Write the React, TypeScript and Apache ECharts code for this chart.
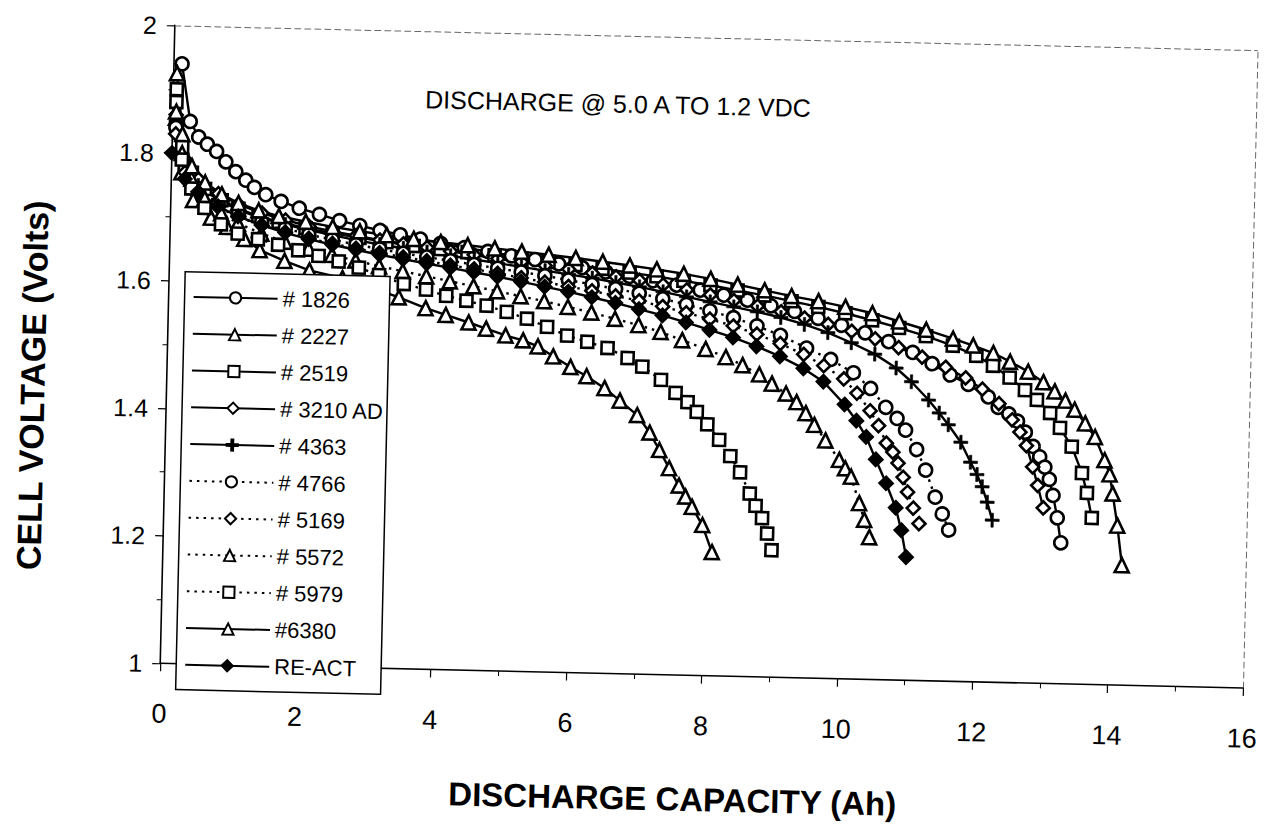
import React, { useEffect, useRef } from "react";
import * as echarts from "echarts";

// Tick labels / axis setup
const xTicks = [0, 2, 4, 6, 8, 10, 12, 14, 16];
const yTicks = [1, 1.2, 1.4, 1.6, 1.8, 2];

const seriesNames = [
  "# 1826",
  "# 2227",
  "# 2519",
  "# 3210 AD",
  "# 4363",
  "# 4766",
  "# 5169",
  "# 5572",
  "# 5979",
  "#6380",
  "RE-ACT",
];

// [capacity Ah, voltage V]
const s1826 = [[0.12,1.94],[0.26,1.85],[0.39,1.826],[0.52,1.815],[0.66,1.804],[0.8,1.788],[0.95,1.773],[1.1,1.76],[1.23,1.749],[1.4,1.738],[1.63,1.728],[1.9,1.718],[2.2,1.709],[2.5,1.7],[2.8,1.693],[3.1,1.686],[3.4,1.68],[3.7,1.674],[4.0,1.668],[4.35,1.662],[4.7,1.657],[5.05,1.651],[5.4,1.646],[5.75,1.64],[6.1,1.635],[6.45,1.629],[6.8,1.623],[7.15,1.617],[7.5,1.611],[7.85,1.604],[8.2,1.597],[8.55,1.59],[8.9,1.582],[9.25,1.574],[9.6,1.564],[9.95,1.554],[10.3,1.543],[10.65,1.53],[11.01,1.514],[11.3,1.497],[11.57,1.48],[11.84,1.466],[12.14,1.447],[12.29,1.431],[12.45,1.421],[12.58,1.41],[12.7,1.393],[12.82,1.371],[12.92,1.355],[13.0,1.339],[13.07,1.32],[13.13,1.295],[13.2,1.26],[13.26,1.221]];
const s2227 = [[0.05,1.855],[0.15,1.77],[0.33,1.727],[0.6,1.7],[0.84,1.686],[1.1,1.668],[1.33,1.651],[1.7,1.635],[2.07,1.621],[2.56,1.61],[3.0,1.596],[3.4,1.582],[3.8,1.566],[4.1,1.556],[4.44,1.545],[4.7,1.536],[4.99,1.526],[5.25,1.519],[5.47,1.51],[5.7,1.495],[5.96,1.479],[6.2,1.465],[6.47,1.447],[6.7,1.428],[6.96,1.406],[7.15,1.379],[7.3,1.352],[7.45,1.324],[7.6,1.297],[7.7,1.28],[7.8,1.264],[7.96,1.236],[8.11,1.194]];
const s2519 = [[0.05,1.88],[0.15,1.81],[0.3,1.77],[0.5,1.745],[0.75,1.728],[1.0,1.715],[1.3,1.704],[1.6,1.696],[2.0,1.687],[2.4,1.68],[2.8,1.674],[3.2,1.668],[3.6,1.663],[4.0,1.659],[4.4,1.655],[4.8,1.651],[5.2,1.647],[5.6,1.643],[6.0,1.639],[6.4,1.634],[6.8,1.629],[7.2,1.624],[7.6,1.618],[8.0,1.612],[8.4,1.605],[8.8,1.598],[9.2,1.59],[9.6,1.582],[10.0,1.573],[10.4,1.563],[10.8,1.552],[11.2,1.54],[11.6,1.526],[11.95,1.511],[12.2,1.496],[12.45,1.478],[12.68,1.459],[12.86,1.444],[13.06,1.424],[13.21,1.401],[13.39,1.372],[13.55,1.331],[13.63,1.3],[13.71,1.261]];
const s3210 = [[0.05,1.86],[0.2,1.79],[0.4,1.76],[0.7,1.738],[1.0,1.722],[1.35,1.709],[1.7,1.699],[2.05,1.69],[2.4,1.683],[2.75,1.677],[3.1,1.671],[3.45,1.666],[3.8,1.661],[4.15,1.656],[4.5,1.651],[4.85,1.646],[5.2,1.642],[5.55,1.637],[5.9,1.632],[6.25,1.627],[6.6,1.622],[6.95,1.617],[7.3,1.611],[7.65,1.604],[8.0,1.597],[8.35,1.589],[8.7,1.581],[9.05,1.573],[9.4,1.564],[9.75,1.555],[10.1,1.545],[10.45,1.534],[10.8,1.521],[11.15,1.507],[11.5,1.492],[11.8,1.476],[12.05,1.459],[12.3,1.437],[12.5,1.412],[12.62,1.393],[12.72,1.372],[12.82,1.339],[12.9,1.31],[12.99,1.275]];
const s4363 = [[0.05,1.85],[0.2,1.78],[0.4,1.75],[0.7,1.728],[1.0,1.713],[1.35,1.701],[1.7,1.692],[2.05,1.684],[2.4,1.677],[2.75,1.67],[3.1,1.664],[3.45,1.659],[3.8,1.654],[4.15,1.649],[4.5,1.644],[4.85,1.639],[5.2,1.634],[5.55,1.629],[5.9,1.624],[6.25,1.619],[6.6,1.613],[6.95,1.607],[7.3,1.6],[7.65,1.593],[8.0,1.586],[8.35,1.579],[8.7,1.572],[9.05,1.564],[9.4,1.554],[9.75,1.542],[10.1,1.527],[10.45,1.51],[10.77,1.489],[11.0,1.468],[11.26,1.44],[11.42,1.42],[11.56,1.402],[11.75,1.375],[11.9,1.344],[12.0,1.325],[12.08,1.306],[12.16,1.282],[12.24,1.254]];
const s4766 = [[0.05,1.84],[0.2,1.775],[0.4,1.745],[0.7,1.722],[1.0,1.707],[1.35,1.695],[1.7,1.686],[2.05,1.677],[2.4,1.67],[2.75,1.663],[3.1,1.657],[3.45,1.651],[3.8,1.646],[4.15,1.641],[4.5,1.636],[4.85,1.631],[5.2,1.626],[5.55,1.621],[5.9,1.615],[6.25,1.609],[6.6,1.603],[6.95,1.597],[7.3,1.589],[7.65,1.581],[8.0,1.572],[8.35,1.562],[8.7,1.55],[9.05,1.536],[9.44,1.517],[9.8,1.5],[10.14,1.48],[10.4,1.456],[10.63,1.427],[10.8,1.41],[10.93,1.392],[11.1,1.362],[11.24,1.33],[11.39,1.288],[11.5,1.262],[11.6,1.237]];
const s5169 = [[0.05,1.83],[0.2,1.77],[0.4,1.74],[0.7,1.717],[1.0,1.702],[1.35,1.69],[1.7,1.68],[2.05,1.671],[2.4,1.664],[2.75,1.657],[3.1,1.651],[3.45,1.645],[3.8,1.64],[4.15,1.634],[4.5,1.629],[4.85,1.623],[5.2,1.617],[5.55,1.611],[5.9,1.605],[6.25,1.599],[6.6,1.592],[6.95,1.585],[7.3,1.577],[7.65,1.568],[8.0,1.559],[8.35,1.549],[8.7,1.537],[9.05,1.523],[9.4,1.507],[9.7,1.49],[10.0,1.47],[10.2,1.448],[10.4,1.421],[10.53,1.398],[10.65,1.371],[10.75,1.357],[10.83,1.34],[10.91,1.318],[10.98,1.295],[11.07,1.27],[11.16,1.246]];
const s5572 = [[0.05,1.865],[0.15,1.8],[0.3,1.76],[0.5,1.73],[0.75,1.707],[1.0,1.692],[1.35,1.677],[1.7,1.665],[2.05,1.655],[2.4,1.646],[2.75,1.638],[3.1,1.63],[3.45,1.623],[3.8,1.616],[4.15,1.609],[4.5,1.602],[4.85,1.595],[5.2,1.588],[5.55,1.581],[5.9,1.573],[6.25,1.565],[6.6,1.556],[6.95,1.547],[7.28,1.537],[7.6,1.525],[7.95,1.512],[8.25,1.5],[8.5,1.488],[8.75,1.474],[8.94,1.46],[9.15,1.445],[9.31,1.432],[9.45,1.415],[9.58,1.397],[9.75,1.373],[9.96,1.343],[10.05,1.33],[10.14,1.317],[10.27,1.276],[10.35,1.25],[10.43,1.223]];
const s5979 = [[0.05,1.9],[0.15,1.79],[0.3,1.745],[0.5,1.715],[0.75,1.69],[1.0,1.676],[1.3,1.668],[1.6,1.66],[1.9,1.652],[2.2,1.644],[2.5,1.636],[2.8,1.627],[3.1,1.616],[3.47,1.603],[3.8,1.595],[4.1,1.586],[4.4,1.579],[4.7,1.572],[5.0,1.563],[5.3,1.553],[5.6,1.541],[5.9,1.528],[6.2,1.519],[6.5,1.51],[6.8,1.495],[7.02,1.482],[7.3,1.462],[7.52,1.442],[7.7,1.428],[7.84,1.413],[8.0,1.394],[8.18,1.37],[8.35,1.345],[8.5,1.32],[8.65,1.287],[8.74,1.268],[8.84,1.249],[8.92,1.225],[8.99,1.199]];
const s6380 = [[0.05,1.925],[0.15,1.83],[0.3,1.78],[0.5,1.755],[0.75,1.737],[1.0,1.724],[1.3,1.713],[1.6,1.705],[2.0,1.697],[2.4,1.69],[2.8,1.684],[3.2,1.679],[3.6,1.674],[4.0,1.67],[4.4,1.666],[4.8,1.662],[5.2,1.658],[5.6,1.654],[6.0,1.65],[6.4,1.645],[6.8,1.64],[7.2,1.635],[7.6,1.629],[8.0,1.622],[8.4,1.614],[8.8,1.606],[9.2,1.598],[9.6,1.591],[10.0,1.583],[10.4,1.574],[10.8,1.562],[11.2,1.55],[11.6,1.537],[11.9,1.527],[12.2,1.516],[12.45,1.503],[12.72,1.488],[12.95,1.472],[13.12,1.458],[13.28,1.444],[13.42,1.43],[13.58,1.409],[13.73,1.388],[13.88,1.352],[13.96,1.33],[14.01,1.3],[14.09,1.25],[14.17,1.188]];
const sReact = [[0.0,1.8],[0.2,1.76],[0.4,1.74],[0.7,1.718],[1.0,1.703],[1.35,1.69],[1.7,1.679],[2.05,1.67],[2.4,1.662],[2.75,1.655],[3.1,1.648],[3.45,1.642],[3.8,1.636],[4.15,1.63],[4.5,1.624],[4.85,1.618],[5.2,1.611],[5.55,1.604],[5.9,1.597],[6.25,1.589],[6.6,1.581],[6.95,1.572],[7.3,1.563],[7.65,1.553],[8.0,1.542],[8.35,1.531],[8.7,1.518],[9.05,1.503],[9.4,1.485],[9.7,1.465],[10.02,1.43],[10.2,1.405],[10.35,1.38],[10.5,1.345],[10.66,1.308],[10.81,1.27],[10.9,1.235],[10.98,1.193]];

const seriesData = [s1826, s2227, s2519, s3210, s4363, s4766, s5169, s5572, s5979, s6380, sReact];

const PLUS = "path://M5,0H7V5H12V7H7V12H5V7H0V5H5Z";
const seriesSymbols = ["circle", "triangle", "rect", "diamond", PLUS, "circle", "diamond", "triangle", "rect", "triangle", "diamond"];
const seriesSizes = [13, 14, 12, 13, 14, 13, 13, 14, 12, 14, 13];
const seriesDotted = [false, false, false, false, false, true, true, true, true, false, false];
const seriesFilled = [false, false, false, false, true, false, false, false, false, false, true];

const FONT = "'Liberation Sans', Arial, Helvetica, sans-serif";

export default function App() {
  const ref = useRef<HTMLDivElement>(null);
  useEffect(() => {
    if (!ref.current) return;
    const chart = echarts.init(ref.current, null, { renderer: "svg" });
    const series = seriesNames.map((name, i) => ({
      type: "line",
      name,
      data: seriesData[i],
      xAxisIndex: 0,
      yAxisIndex: 0,
      symbol: seriesSymbols[i],
      symbolSize: seriesSizes[i],
      showAllSymbol: true,
      smooth: false,
      lineStyle: {
        color: "#000",
        width: 2.4,
        type: seriesDotted[i] ? [2.5, 5] : "solid",
      },
      itemStyle: {
        color: seriesFilled[i] ? "#000" : "#fff",
        borderColor: "#000",
        borderWidth: seriesSymbols[i] === PLUS ? 0.6 : 2.6,
      },
      emphasis: { disabled: true },
      silent: true,
    }));

    const axisLine = { show: true, onZero: false, lineStyle: { color: "#000", width: 1.6 } };
    const dashedLine = { show: true, onZero: false, lineStyle: { color: "#666", width: 1, type: [6, 4] } };

    chart.setOption({
      animation: false,
      backgroundColor: "#fff",
      textStyle: { fontFamily: FONT },
      grid: { left: 166, right: 11, top: 36, bottom: 159, containLabel: false },
      xAxis: [
        {
          type: "value",
          min: xTicks[0],
          max: xTicks[xTicks.length - 1],
          interval: 2,
          position: "bottom",
          axisLine,
          axisTick: { show: true, length: 8, lineStyle: { color: "#000", width: 1.2 } },
          minorTick: { show: true, splitNumber: 2, length: 5, lineStyle: { color: "#000", width: 1 } },
          axisLabel: { fontSize: 27, color: "#000", margin: 37, fontFamily: FONT },
          splitLine: { show: false },
        },
        {
          type: "value",
          min: xTicks[0],
          max: xTicks[xTicks.length - 1],
          position: "top",
          axisLine: dashedLine,
          axisTick: { show: false },
          axisLabel: { show: false },
          splitLine: { show: false },
        },
      ],
      yAxis: [
        {
          type: "value",
          min: yTicks[0],
          max: yTicks[yTicks.length - 1],
          interval: 0.2,
          position: "left",
          axisLine,
          axisTick: { show: true, length: 8, lineStyle: { color: "#000", width: 1.2 } },
          minorTick: { show: true, splitNumber: 2, length: 5, lineStyle: { color: "#000", width: 1 } },
          axisLabel: { fontSize: 25, color: "#000", margin: 18, fontFamily: FONT },
          splitLine: { show: false },
        },
        {
          type: "value",
          min: yTicks[0],
          max: yTicks[yTicks.length - 1],
          position: "right",
          axisLine: dashedLine,
          axisTick: { show: false },
          axisLabel: { show: false },
          splitLine: { show: false },
        },
      ],
      legend: {
        show: true,
        orient: "vertical",
        left: 182,
        top: 282,
        align: "left",
        itemWidth: 84,
        itemHeight: 14,
        itemGap: 14.8,
        padding: [14, 3, 14, 8],
        backgroundColor: "#fff",
        borderColor: "#000",
        borderWidth: 1.5,
        selectedMode: false,
        data: seriesNames,
        textStyle: { fontSize: 22, color: "#000", fontFamily: FONT, lineHeight: 22 },
        z: 10,
      },
      graphic: [
        {
          type: "text",
          x: 418,
          y: 104,
          style: {
            text: "DISCHARGE @ 5.0 A TO 1.2 VDC",
            font: `25px ${FONT}`,
            fill: "#000",
            align: "left",
            verticalAlign: "middle",
          },
        },
        {
          type: "text",
          x: 681,
          y: 798,
          style: {
            text: "DISCHARGE CAPACITY (Ah)",
            font: `bold 33px ${FONT}`,
            fill: "#000",
            align: "center",
            verticalAlign: "middle",
          },
        },
        {
          type: "text",
          x: 32,
          y: 399,
          rotation: Math.PI / 2,
          style: {
            text: "CELL VOLTAGE (Volts)",
            font: `bold 34px ${FONT}`,
            fill: "#000",
            align: "center",
            verticalAlign: "middle",
          },
        },
      ],
      series,
    });
    return () => chart.dispose();
  }, []);
  return (
    <div
      ref={ref}
      style={{
        position: "absolute",
        left: 0,
        top: 0,
        width: 1267,
        height: 833,
        transform: "rotate(1.31deg)",
        transformOrigin: "633.5px 416.5px",
      }}
    />
  );
}
